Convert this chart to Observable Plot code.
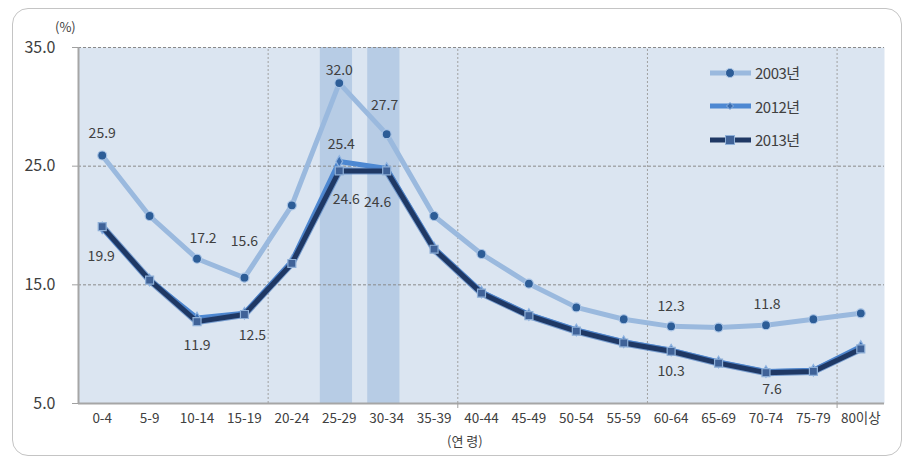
<!DOCTYPE html>
<html><head><meta charset="utf-8">
<script src="https://cdn.jsdelivr.net/npm/d3@7"></script>
<script src="https://cdn.jsdelivr.net/npm/@observablehq/plot@0.6"></script>
<style>
body{margin:0;background:#fff;}
#wrap{position:relative;width:905px;height:459px;font-family:"Noto Sans CJK KR","Noto Sans",sans-serif;color:#404040;overflow:hidden;}
#frame{position:absolute;left:12px;top:8px;width:890px;height:448px;border:1.5px solid #c4c4c4;border-radius:16px;box-sizing:border-box;}
#chart{position:absolute;left:0;top:0;}
.lab{position:absolute;white-space:nowrap;}
#legend{position:absolute;left:709px;top:56px;}
#legend .row{display:flex;align-items:center;height:33.5px;font-size:15px;letter-spacing:-0.5px;}
#legend svg{margin-right:3px;}
</style></head>
<body>
<div id="wrap">
  <div id="frame"></div>
  <div id="chart"></div>
  <div class="lab" style="left:55px;top:17px;font-size:13px;">(%)</div>
  <div class="lab" style="left:447px;top:431px;font-size:13px;">(연 령)</div>
  <div id="legend"></div>
</div>
<script>
// ---- data ----
const categories = ["0-4","5-9","10-14","15-19","20-24","25-29","30-34","35-39","40-44","45-49","50-54","55-59","60-64","65-69","70-74","75-79","80이상"];
const seriesNames = ["2003년","2012년","2013년"];
const values2003 = [25.9,20.8,17.2,15.6,21.7,32.0,27.7,20.8,17.6,15.1,13.1,12.1,11.5,11.4,11.6,12.1,12.6];
const values2012 = [19.8,15.4,12.2,12.6,17.0,25.4,24.8,18.1,14.4,12.5,11.2,10.2,9.5,8.5,7.7,7.8,9.8];
const values2013 = [19.9,15.4,11.9,12.5,16.8,24.6,24.6,18.0,14.3,12.4,11.1,10.1,9.4,8.4,7.6,7.7,9.6];
const labels2003 = ["25.9",null,"17.2","15.6",null,"32.0","27.7",null,null,null,null,null,"12.3",null,"11.8",null,null];
const labels2012 = [null,null,null,null,null,"25.4",null,null,null,null,null,null,null,null,null,null,null];
const labels2013 = ["19.9",null,"11.9","12.5",null,"24.6","24.6",null,null,null,null,null,"10.3",null,"7.6",null,null];
const highlighted = ["25-29","30-34"];
const yTicks = [5,15,25,35];
const gridYValues = [15,25,35];

// ---- build ----
const idx = c => categories.indexOf(c);
const rows = [];
[values2003, values2012, values2013].forEach((vals, s) => {
  vals.forEach((v, i) => rows.push({series: seriesNames[s], i, cat: categories[i], v}));
});
const labelRows = [];
[labels2003, labels2012, labels2013].forEach((labs, s) => {
  const vals = [values2003, values2012, values2013][s];
  labs.forEach((t, i) => { if (t) labelRows.push({series: seriesNames[s], i, cat: categories[i], v: vals[i], text: t}); });
});
// label placement (pixel offsets)
const placement = {
  "2003년|0-4":[0,-22], "2003년|10-14":[6,-20], "2003년|15-19":[0,-36], "2003년|25-29":[0,-13],
  "2003년|30-34":[-2,-29], "2003년|60-64":[0,-20], "2003년|70-74":[1,-21],
  "2012년|25-29":[2,-17],
  "2013년|0-4":[-1,30], "2013년|10-14":[0,24], "2013년|15-19":[8,21], "2013년|25-29":[7,29],
  "2013년|30-34":[-9,32], "2013년|60-64":[0,20], "2013년|70-74":[6,17]
};
labelRows.forEach(d => { const p = placement[d.series+"|"+d.cat] || [0,-18]; d.dx = p[0]; d.dy = p[1]; });

const style = {
  "2003년": {line:"#9ab9de", w:5, fill:"#2d5d97", stroke:"#a9c4e6", symbol:"circle", r:4.5},
  "2012년": {line:"#4d88d2", w:5, fill:"#3a6db0", stroke:"#8db2e0", symbol:"diamond", r:3.5},
  "2013년": {line:"#1f3864", w:5, fill:"#3f6298", stroke:"#8fb0d8", symbol:"square", r:4.5}
};

const marks = [
  Plot.frame({fill:"#dbe5f1", stroke:null}),
  Plot.rect(highlighted, {x1: d => idx(d)+0.1, x2: d => idx(d)+0.78, y1: () => 5, y2: () => 35, fill:"#b7cce5"}),
  Plot.ruleX([4,8,12,16], {y1: () => 5, y2: () => 35, stroke:"#a0a0a0", strokeDasharray:"2,2", strokeWidth:1}),
  Plot.ruleY(gridYValues, {stroke:"#8a8a8a", strokeDasharray:"3,2", strokeWidth:1}),
  Plot.ruleX([0], {y1: () => 5, y2: () => 35, stroke:"#a6a6a6", strokeWidth:2}),
  Plot.ruleY([5], {stroke:"#a6a6a6", strokeWidth:2}),
  Plot.ruleX([8,16], {y1: () => 5, y2: () => 5, insetBottom: -5, stroke:"#a0a0a0"}),
  Plot.axisY({ticks: yTicks, tickFormat: d => d.toFixed(1), tickSize: 6, tickPadding: 17, fontSize: 16, stroke:"#a0a0a0", color:"#404040", label: null}),
  Plot.axisX({ticks: categories.map((c,i) => i+0.5), tickFormat: v => categories[Math.round(v-0.5)], tickSize: 0, tickPadding: 10, fontSize: 13.5, color:"#404040", label: null})
];
for (const s of seriesNames) {
  const st = style[s];
  const data = rows.filter(d => d.series === s);
  if (s === "2013년") {
    marks.push(Plot.line(data, {x: d => d.i+0.5, y: "v", stroke: "#4f7fc0", strokeWidth: st.w+2, strokeOpacity: 0.7}));
  }
  marks.push(Plot.line(data, {x: d => d.i+0.5, y: "v", stroke: st.line, strokeWidth: st.w}));
  marks.push(Plot.dot(data, {x: d => d.i+0.5, y: "v", symbol: st.symbol, r: st.r, fill: st.fill, stroke: st.stroke, strokeWidth: 1.2}));
}
marks.push(Plot.text(labelRows, {x: d => d.i+0.5, y: "v", text: "text", fontSize: 14, fill:"#404040"}));

const chart = Plot.plot({
  width: 905, height: 459,
  marginLeft: 78, marginRight: 21, marginTop: 47, marginBottom: 56,
  x: {type: "linear", domain: [0, 17], axis: null},
  y: {type: "linear", domain: [5, 35], axis: null},
  style: {background: "transparent", fontFamily: '"Noto Sans CJK KR","Noto Sans",sans-serif'},
  marks
});
document.getElementById("chart").appendChild(chart);

// per-label offsets
const texts = chart.querySelectorAll('g[aria-label="text"] text');
texts.forEach((t, k) => {
  const d = labelRows[k];
  if (d) t.setAttribute("transform", (t.getAttribute("transform")||"") + ` translate(${d.dx},${d.dy})`);
});

// legend
const leg = document.getElementById("legend");
for (const s of seriesNames) {
  const st = style[s];
  const row = document.createElement("div"); row.className = "row";
  let marker;
  if (st.symbol === "circle") marker = `<circle cx="21" cy="7" r="4.5" fill="${st.fill}" stroke="${st.stroke}"/>`;
  else if (st.symbol === "diamond") marker = `<path d="M21 3.5L24.5 7L21 10.5L17.5 7Z" fill="${st.fill}" stroke="${st.stroke}"/>`;
  else marker = `<rect x="16.5" y="2.5" width="9" height="9" fill="${st.fill}" stroke="${st.stroke}"/>`;
  row.innerHTML = `<svg width="43" height="14"><line x1="1" y1="7" x2="42" y2="7" stroke="${st.line}" stroke-width="5"/>${marker}</svg><span>${s}</span>`;
  leg.appendChild(row);
}
</script>
</body></html>
